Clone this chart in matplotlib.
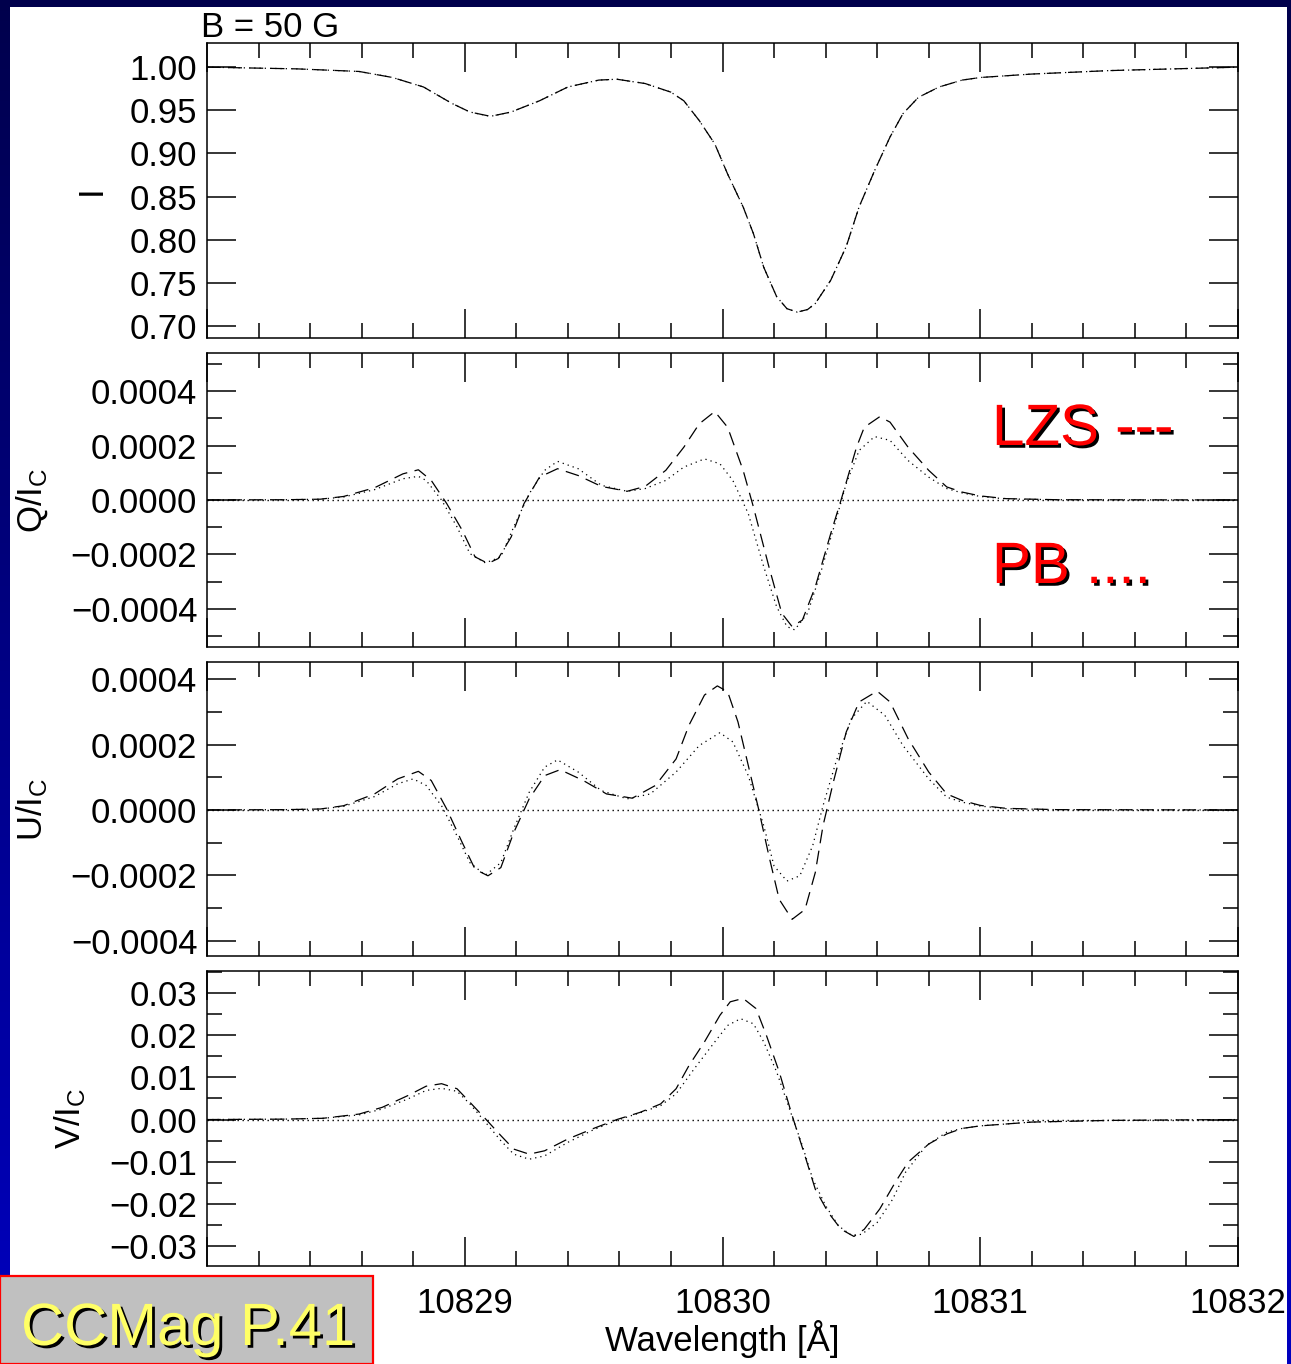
import numpy as np
import matplotlib
matplotlib.use("Agg")
import matplotlib.pyplot as plt
import matplotlib.patheffects as pe
from matplotlib.patches import Rectangle
from matplotlib.ticker import MultipleLocator, FuncFormatter

plt.rcParams["font.family"] = ["Liberation Sans", "DejaVu Sans"]
plt.rcParams["mathtext.fontset"] = "custom"
plt.rcParams["mathtext.rm"] = "Liberation Sans"
plt.rcParams["mathtext.it"] = "Liberation Sans:italic"

# Stokes I (both models coincide), wavelength in Angstrom
STOKES_I = [
    (10828.00, 1.000), (10828.35, 0.998), (10828.59, 0.995), (10828.72, 0.988),
    (10828.84, 0.977), (10828.95, 0.958), (10829.02, 0.948), (10829.10, 0.943),
    (10829.18, 0.948), (10829.29, 0.961), (10829.40, 0.977), (10829.52, 0.985),
    (10829.59, 0.986), (10829.70, 0.981), (10829.80, 0.971), (10829.85, 0.961),
    (10829.91, 0.938), (10829.97, 0.911), (10830.02, 0.876), (10830.08, 0.838),
    (10830.12, 0.807), (10830.16, 0.768), (10830.21, 0.734), (10830.25, 0.720),
    (10830.29, 0.716), (10830.33, 0.719), (10830.36, 0.726), (10830.42, 0.753),
    (10830.48, 0.792), (10830.53, 0.838), (10830.59, 0.880), (10830.65, 0.919),
    (10830.70, 0.946), (10830.76, 0.965), (10830.84, 0.977), (10830.93, 0.985),
    (10831.00, 0.988), (10831.20, 0.992), (10831.50, 0.996), (10832.00, 1.000),
]

# Q/Ic in units of 1e-4
Q_LZS = [
    (10828.00, 0.00), (10828.30, 0.01), (10828.44, 0.03), (10828.53, 0.13),
    (10828.65, 0.45), (10828.76, 0.96), (10828.82, 1.11), (10828.87, 0.72),
    (10828.93, -0.13), (10828.99, -1.11), (10829.04, -2.09), (10829.09, -2.33),
    (10829.13, -2.15), (10829.18, -1.36), (10829.23, -0.13), (10829.29, 0.84),
    (10829.36, 1.15), (10829.44, 0.90), (10829.53, 0.50), (10829.63, 0.32),
    (10829.70, 0.50), (10829.78, 1.09), (10829.85, 1.94), (10829.91, 2.80),
    (10829.97, 3.25), (10830.02, 2.67), (10830.08, 1.09), (10830.12, -0.26),
    (10830.18, -2.45), (10830.23, -4.16), (10830.27, -4.65), (10830.31, -4.41),
    (10830.36, -3.19), (10830.42, -1.23), (10830.46, 0.00), (10830.52, 1.94),
    (10830.55, 2.67), (10830.61, 3.06), (10830.65, 2.86), (10830.72, 1.94),
    (10830.80, 1.09), (10830.87, 0.48), (10830.93, 0.29), (10831.00, 0.15),
    (10831.10, 0.05), (10831.30, 0.01), (10832.00, 0.00),
]
Q_PB = [
    (10828.00, 0.00), (10828.30, 0.01), (10828.44, 0.03), (10828.53, 0.11),
    (10828.65, 0.38), (10828.76, 0.78), (10828.82, 0.87), (10828.85, 0.72),
    (10828.91, 0.00), (10828.97, -0.99), (10829.02, -1.97), (10829.08, -2.31),
    (10829.14, -2.09), (10829.19, -0.99), (10829.25, 0.23), (10829.31, 1.09),
    (10829.36, 1.42), (10829.44, 1.15), (10829.53, 0.54), (10829.63, 0.32),
    (10829.70, 0.42), (10829.78, 0.72), (10829.85, 1.21), (10829.93, 1.51),
    (10829.99, 1.33), (10830.04, 0.72), (10830.10, -0.50), (10830.16, -2.45),
    (10830.21, -3.92), (10830.25, -4.65), (10830.28, -4.77), (10830.33, -4.16),
    (10830.38, -2.70), (10830.44, -0.74), (10830.48, 0.60), (10830.53, 1.82),
    (10830.59, 2.33), (10830.65, 2.19), (10830.72, 1.45), (10830.80, 0.84),
    (10830.87, 0.42), (10830.93, 0.26), (10831.00, 0.13), (10831.10, 0.04),
    (10831.30, 0.01), (10832.00, 0.00),
]

# U/Ic in units of 1e-4
U_LZS = [
    (10828.00, 0.00), (10828.30, 0.01), (10828.44, 0.03), (10828.53, 0.13),
    (10828.65, 0.49), (10828.74, 0.95), (10828.82, 1.18), (10828.87, 0.90),
    (10828.93, 0.03), (10828.99, -0.99), (10829.04, -1.81), (10829.09, -2.01),
    (10829.14, -1.76), (10829.19, -0.69), (10829.25, 0.34), (10829.31, 1.05),
    (10829.37, 1.23), (10829.46, 0.90), (10829.55, 0.49), (10829.65, 0.36),
    (10829.74, 0.75), (10829.82, 1.56), (10829.87, 2.59), (10829.93, 3.51),
    (10829.98, 3.79), (10830.02, 3.61), (10830.06, 2.69), (10830.10, 1.36),
    (10830.14, 0.03), (10830.18, -1.40), (10830.22, -2.73), (10830.27, -3.34),
    (10830.32, -3.04), (10830.36, -1.91), (10830.39, -0.48), (10830.43, 0.85),
    (10830.48, 2.38), (10830.53, 3.30), (10830.60, 3.63), (10830.65, 3.30),
    (10830.72, 2.18), (10830.80, 1.16), (10830.87, 0.49), (10830.93, 0.29),
    (10831.00, 0.14), (10831.10, 0.05), (10831.30, 0.01), (10832.00, 0.00),
]
U_PB = [
    (10828.00, 0.00), (10828.30, 0.01), (10828.44, 0.03), (10828.53, 0.11),
    (10828.65, 0.41), (10828.74, 0.80), (10828.80, 0.95), (10828.85, 0.75),
    (10828.91, 0.13), (10828.97, -0.79), (10829.02, -1.61), (10829.08, -1.99),
    (10829.14, -1.61), (10829.19, -0.58), (10829.25, 0.54), (10829.31, 1.31),
    (10829.36, 1.53), (10829.44, 1.16), (10829.53, 0.59), (10829.63, 0.34),
    (10829.72, 0.49), (10829.82, 1.16), (10829.91, 1.97), (10829.99, 2.36),
    (10830.04, 2.08), (10830.10, 1.05), (10830.16, -0.48), (10830.20, -1.71),
    (10830.25, -2.17), (10830.30, -2.01), (10830.35, -1.09), (10830.39, 0.13),
    (10830.44, 1.46), (10830.50, 2.79), (10830.56, 3.32), (10830.63, 2.89),
    (10830.70, 1.97), (10830.80, 0.95), (10830.87, 0.39), (10830.93, 0.24),
    (10831.00, 0.12), (10831.10, 0.04), (10831.30, 0.01), (10832.00, 0.00),
]

# V/Ic in units of 1e-2
V_LZS = [
    (10828.00, 0.00), (10828.30, 0.01), (10828.45, 0.03), (10828.59, 0.13),
    (10828.68, 0.29), (10828.78, 0.57), (10828.85, 0.79), (10828.91, 0.85),
    (10828.97, 0.73), (10829.02, 0.41), (10829.08, 0.02), (10829.14, -0.38),
    (10829.19, -0.70), (10829.25, -0.82), (10829.31, -0.74), (10829.40, -0.46),
    (10829.50, -0.21), (10829.59, 0.00), (10829.68, 0.17), (10829.76, 0.37),
    (10829.82, 0.73), (10829.87, 1.28), (10829.93, 1.84), (10829.99, 2.47),
    (10830.03, 2.79), (10830.08, 2.87), (10830.13, 2.63), (10830.17, 2.00),
    (10830.22, 1.13), (10830.27, 0.10), (10830.32, -0.86), (10830.36, -1.65),
    (10830.41, -2.20), (10830.46, -2.60), (10830.51, -2.77), (10830.55, -2.60),
    (10830.61, -2.12), (10830.67, -1.49), (10830.72, -1.01), (10830.80, -0.58),
    (10830.87, -0.34), (10830.93, -0.21), (10831.00, -0.15), (10831.20, -0.06),
    (10831.50, -0.02), (10832.00, 0.00),
]
V_PB = [
    (10828.00, 0.00), (10828.30, 0.01), (10828.45, 0.03), (10828.59, 0.11),
    (10828.68, 0.25), (10828.78, 0.49), (10828.85, 0.69), (10828.91, 0.74),
    (10828.97, 0.67), (10829.02, 0.37), (10829.08, -0.06), (10829.14, -0.50),
    (10829.19, -0.82), (10829.25, -0.94), (10829.31, -0.86), (10829.40, -0.54),
    (10829.50, -0.24), (10829.59, -0.02), (10829.68, 0.16), (10829.76, 0.33),
    (10829.82, 0.61), (10829.89, 1.20), (10829.97, 1.84), (10830.02, 2.23),
    (10830.07, 2.39), (10830.12, 2.27), (10830.16, 1.84), (10830.21, 1.13),
    (10830.26, 0.25), (10830.31, -0.62), (10830.35, -1.41), (10830.40, -2.04),
    (10830.45, -2.52), (10830.50, -2.74), (10830.54, -2.72), (10830.60, -2.44),
    (10830.66, -1.89), (10830.71, -1.25), (10830.79, -0.62), (10830.87, -0.30),
    (10830.93, -0.21), (10831.00, -0.15), (10831.20, -0.06), (10831.50, -0.02),
    (10832.00, 0.00),
]

X_TICKS = [10828, 10829, 10830, 10831, 10832]
W, H = 1291, 1364
DASHED = (0, (11, 6))
DOTTED = (0, (1, 3.2))


def split(pairs, scale=1.0):
    arr = np.array(pairs, dtype=float)
    return arr[:, 0], arr[:, 1] * scale


def fmt(decimals):
    def f(v, _pos):
        if abs(v) < 1e-12:
            v = 0.0
        return f"{v:.{decimals}f}".replace("-", "\u2212")
    return FuncFormatter(f)


def xfmt(v, _pos):
    # the first label sits under the CCMag box
    return "" if v <= X_TICKS[0] else f"{v:.0f}"


def px_rect(top, bottom):
    return [207 / W, 1 - bottom / H, 1031 / W, (bottom - top) / H]


fig = plt.figure(figsize=(W / 100, H / 100), dpi=100)

# slide background: blue gradient frame with white sheet
bg = fig.add_axes([0, 0, 1, 1], zorder=-10)
grad = np.linspace(0, 1, 256)
rgb = np.zeros((256, 1, 3))
rgb[:, 0, 2] = 0.30 + 0.45 * grad
bg.imshow(rgb, aspect="auto", extent=[0, 1, 0, 1], origin="upper")
bg.add_patch(Rectangle((10 / W, 0), (1287 - 10) / W, 1 - 7 / H, facecolor="white", edgecolor="none"))
bg.set_xlim(0, 1)
bg.set_ylim(0, 1)
bg.axis("off")

panels = [
    dict(rect=px_rect(43, 338), ylim=(0.686, 1.028), major=0.05, minor=None, dec=2,
         label="I", base=101, series=[STOKES_I, STOKES_I], scale=1.0, zero=False),
    dict(rect=px_rect(353, 647), ylim=(-0.00054, 0.00054), major=0.0002, minor=0.0001, dec=4,
         label=r"Q/I$_{\mathrm{C}}$", base=42, series=[Q_LZS, Q_PB], scale=1e-4, zero=True),
    dict(rect=px_rect(662, 956), ylim=(-0.000446, 0.000452), major=0.0002, minor=0.0001, dec=4,
         label=r"U/I$_{\mathrm{C}}$", base=42, series=[U_LZS, U_PB], scale=1e-4, zero=True),
    dict(rect=px_rect(971, 1266), ylim=(-0.0347, 0.0352), major=0.01, minor=0.005, dec=2,
         label=r"V/I$_{\mathrm{C}}$", base=80, series=[V_LZS, V_PB], scale=1e-2, zero=True),
]

for i, p in enumerate(panels):
    ax = fig.add_axes(p["rect"])
    ax.set_facecolor("none")
    if p["zero"]:
        ax.axhline(0, color="black", lw=1.0, linestyle=(0, (1, 2.6)))
    lzs, pb = p["series"]
    x, y = split(lzs, p["scale"])
    ax.plot(x, y, color="black", lw=0.9, linestyle=DASHED)
    x, y = split(pb, p["scale"])
    ax.plot(x, y, color="black", lw=0.9, linestyle=DOTTED)
    ax.set_xlim(X_TICKS[0], X_TICKS[-1])
    ax.set_ylim(*p["ylim"])
    ax.set_xticks(X_TICKS)
    ax.xaxis.set_minor_locator(MultipleLocator(0.2))
    ax.yaxis.set_major_locator(MultipleLocator(p["major"]))
    if p["minor"]:
        ax.yaxis.set_minor_locator(MultipleLocator(p["minor"]))
    ax.yaxis.set_major_formatter(fmt(p["dec"]))
    ax.xaxis.set_major_formatter(FuncFormatter(xfmt))
    ax.tick_params(which="both", direction="in", top=True, right=True, width=1.1, labelsize=25, colors="black")
    ax.tick_params(which="major", length=21, pad=7)
    ax.tick_params(which="minor", length=10.5)
    ax.tick_params(axis="x", which="major", pad=15)
    if i < 3:
        ax.tick_params(axis="x", labelbottom=False)
    else:
        ax.set_xlabel("Wavelength [Å]", fontsize=25, labelpad=0)
    for s in ax.spines.values():
        s.set_linewidth(1.1)
    ymid = p["rect"][1] + p["rect"][3] / 2
    fig.text(p["base"] / W, ymid, p["label"], fontsize=25, rotation=90, rotation_mode="anchor",
             ha="center", va="baseline")

fig.text(201 / W, 1 - 37 / H, "B = 50 G", fontsize=25, ha="left", va="baseline")

shadow = [pe.withSimplePatchShadow(offset=(2, -2), shadow_rgbFace="black", alpha=1.0)]
fig.text(992 / W, 1 - 445 / H, "LZS ---", fontsize=42, color="red", ha="left", va="baseline",
         path_effects=shadow)
fig.text(992 / W, 1 - 583 / H, "PB ....", fontsize=42, color="red", ha="left", va="baseline",
         path_effects=shadow)

fig.patches.append(Rectangle((0, 0), 373 / W, 88 / H, transform=fig.transFigure,
                             facecolor="#c0c0c0", edgecolor="red", lw=1.6, zorder=5))
fig.text(21 / W, 1 - 1345 / H, "CCMag P.41", fontsize=43, color="#ffff66", ha="left", va="baseline",
         path_effects=shadow, zorder=6)

fig.savefig("out.png", dpi=100)
